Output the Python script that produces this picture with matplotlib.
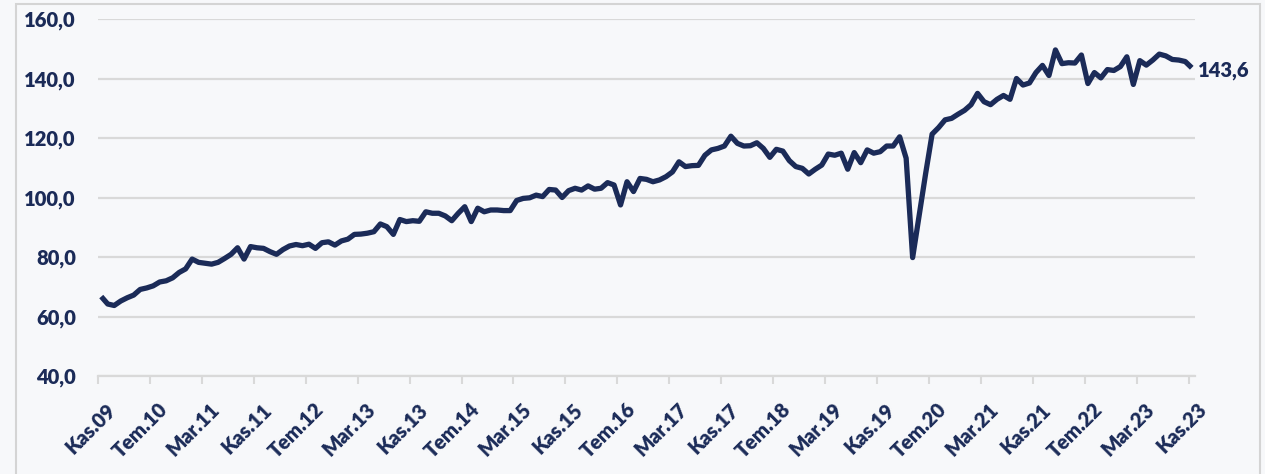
import matplotlib
matplotlib.use("Agg")
import matplotlib.pyplot as plt
from matplotlib.patches import Rectangle
import matplotlib.transforms as mtransforms
import numpy as np

# Monthly index, Kas.09 (Nov 2009) .. Kas.23 (Nov 2023)
values = [
    66.7, 64.2, 63.7, 65.2, 66.3, 67.2, 69.1, 69.6, 70.3, 71.6,
    72.0, 73.0, 74.8, 76.0, 79.3, 78.2, 77.9, 77.6, 78.2, 79.5,
    80.9, 83.1, 79.3, 83.5, 83.1, 82.9, 81.8, 80.9, 82.5, 83.7,
    84.2, 83.8, 84.3, 82.9, 84.8, 85.1, 84.0, 85.4, 86.0, 87.6,
    87.7, 88.0, 88.5, 91.1, 90.2, 87.6, 92.6, 91.9, 92.2, 92.0,
    95.2, 94.7, 94.7, 93.8, 92.2, 94.7, 96.9, 91.9, 96.4, 95.2,
    95.8, 95.8, 95.6, 95.6, 99.0, 99.7, 99.9, 100.8, 100.3, 102.7,
    102.5, 100.0, 102.3, 103.1, 102.5, 103.9, 102.8, 103.1, 105.0, 104.2,
    97.5, 105.3, 102.0, 106.4, 106.1, 105.3, 105.9, 107.0, 108.6, 112.0,
    110.4, 110.7, 110.8, 114.2, 116.0, 116.5, 117.3, 120.6, 118.2, 117.3,
    117.4, 118.4, 116.5, 113.5, 116.2, 115.6, 112.4, 110.4, 109.8, 107.9,
    109.5, 110.9, 114.6, 114.2, 114.9, 109.5, 115.1, 111.7, 116.0, 114.9,
    115.4, 117.3, 117.3, 120.4, 113.2, 79.8, 94.0, 108.0, 121.3, 123.5,
    126.1, 126.6, 128.0, 129.3, 131.2, 135.0, 132.2, 131.2, 133.0, 134.3,
    133.0, 140.0, 137.8, 138.5, 142.0, 144.4, 141.0, 149.6, 145.0, 145.3,
    145.2, 147.9, 138.3, 142.0, 140.2, 143.0, 142.7, 144.0, 147.3, 138.0,
    146.0, 144.5, 146.2, 148.2, 147.6, 146.4, 146.2, 145.7, 143.6,
]

tick_labels = ["Kas.09", "Tem.10", "Mar.11", "Kas.11", "Tem.12", "Mar.13",
               "Kas.13", "Tem.14", "Mar.15", "Kas.15", "Tem.16", "Mar.17",
               "Kas.17", "Tem.18", "Mar.19", "Kas.19", "Tem.20", "Mar.21",
               "Kas.21", "Tem.22", "Mar.23", "Kas.23"]
tick_step = 8
y_ticks = [40, 60, 80, 100, 120, 140, 160]
last_label = "143,6"

navy = "#1b2b58"
grid_c = "#d9d9d9"
FS = 14.5

fig = plt.figure(figsize=(12.65, 4.74), dpi=100)
fig.patch.set_facecolor("#f7f8fa")
W, H = 1265, 474
ax = fig.add_axes([98 / W, 1 - 376 / H, (1195 - 98) / W, (376 - 19) / H])
ax.set_facecolor("none")

# categories sit between tick marks (Excel-style): point i at i + 0.5
x = np.arange(len(values)) + 0.5
ax.plot(x, values, color=navy, lw=3.8, solid_joinstyle="round", solid_capstyle="butt",
        zorder=3)

ax.set_xlim(0, len(values))
ax.set_ylim(40, 160)
ax.set_yticks(y_ticks)
ax.set_yticklabels([f"{v:.1f}".replace(".", ",") for v in y_ticks])
ax.yaxis.grid(True, color=grid_c, lw=1.6)
ax.set_axisbelow(True)

xt = np.arange(0, len(values), tick_step)
ax.set_xticks(xt)
ax.set_xticklabels(tick_labels[:len(xt)], rotation=45, ha="right", va="top",
                   rotation_mode="anchor")

for s in ["top", "right", "left"]:
    ax.spines[s].set_visible(False)
ax.spines["bottom"].set_color(grid_c)
ax.spines["bottom"].set_linewidth(1.6)

ax.tick_params(axis="y", length=0, pad=16, labelsize=FS, labelcolor=navy)
ax.tick_params(axis="x", length=6, width=1.5, color=grid_c, pad=11, labelsize=FS,
               labelcolor=navy)
shift = mtransforms.ScaledTranslation(8 / 100, 0, fig.dpi_scale_trans)
for lab in ax.get_xticklabels():
    lab.set_transform(lab.get_transform() + shift)
for lab in ax.get_xticklabels() + ax.get_yticklabels():
    lab.set_fontfamily("Lato")
    lab.set_fontweight("heavy")

ax.annotate(last_label, xy=(x[-1], values[-1]), xytext=(6, -3),
            textcoords="offset pixels", ha="left", va="center",
            fontsize=FS, fontweight="heavy", color=navy, fontfamily="Lato")

fig.patches.append(Rectangle((16 / W, -0.05), (1260 - 16) / W, 1 - 4 / H + 0.05,
                             transform=fig.transFigure, fill=False,
                             edgecolor="#d4d4d4", lw=1.5))

fig.savefig("out.png", dpi=100, facecolor=fig.get_facecolor())
